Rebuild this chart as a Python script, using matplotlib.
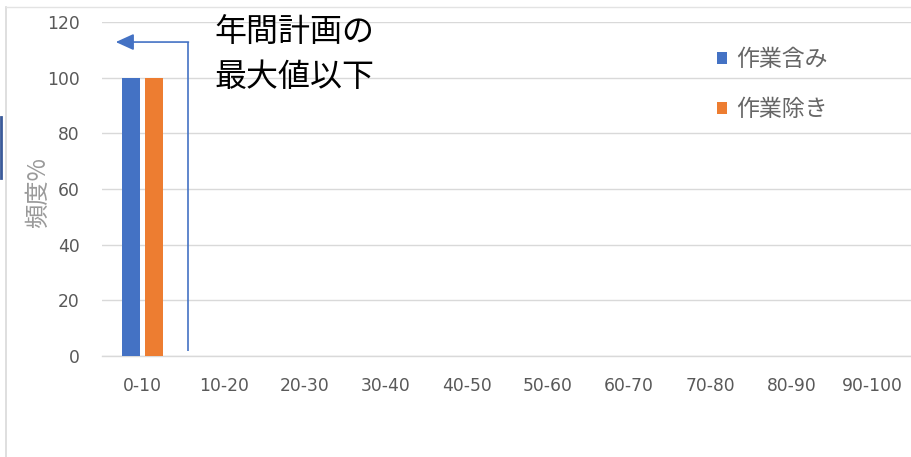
import numpy as np
import matplotlib
matplotlib.use('Agg')
import matplotlib.pyplot as plt
from matplotlib.lines import Line2D

plt.rcParams['font.family'] = ['Noto Sans CJK JP', 'DejaVu Sans']

categories = ['0-10', '10-20', '20-30', '30-40', '40-50',
              '50-60', '60-70', '70-80', '80-90', '90-100']
with_work = [100, 0, 0, 0, 0, 0, 0, 0, 0, 0]
without_work = [100, 0, 0, 0, 0, 0, 0, 0, 0, 0]
series_names = ['作業含み', '作業除き']
y_ticks = [0, 20, 40, 60, 80, 100, 120]
annotation = '年間計画の\n最大値以下'

W, H = 912, 457
fig = plt.figure(figsize=(W / 100, H / 100), dpi=100)
fig.patch.set_facecolor('white')

# plot area in pixels: left 102, right ~913, top 22, bottom 356
ax = fig.add_axes([102 / W, (H - 356) / H, 811 / W, 334 / H])

x = np.arange(len(categories))
bw = 0.215
ax.bar(x - 0.143, with_work, bw, color='#4472C4', label=series_names[0], zorder=3)
ax.bar(x + 0.141, without_work, bw, color='#ED7D31', label=series_names[1], zorder=3)

ax.set_xlim(-0.5, len(categories) - 0.5)
ax.set_ylim(0, 120)
ax.set_yticks(y_ticks)
ax.set_xticks(x)
ax.set_xticklabels(categories)
ax.tick_params(axis='both', length=0, labelsize=12.3, labelcolor='#595959',
               labelfontfamily='DejaVu Sans')
ax.tick_params(axis='y', pad=16)
ax.tick_params(axis='x', pad=15)
ax.grid(axis='y', color='#D9D9D9', linewidth=1, zorder=0)
for s in ['top', 'right', 'left']:
    ax.spines[s].set_visible(False)
ax.spines['bottom'].set_color('#D9D9D9')
ax.spines['bottom'].set_linewidth(1)

fig.text(38 / W, 1 - 192 / H, '頻度%', rotation=90, ha='center', va='center',
         fontsize=17.5, color='#9A9A9A')

# arrow annotation
ax.plot([0.566, 0.566], [1.8, 112.8], color='#4472C4', lw=1.2, zorder=4,
        solid_capstyle='butt')
ax.annotate('', xy=(-0.33, 112.8), xytext=(0.566, 112.8),
            arrowprops=dict(arrowstyle='-|>,head_length=1.1,head_width=0.5',
                            color='#4472C4', lw=1.2, shrinkA=0, shrinkB=0),
            zorder=4)
fig.text(214 / W, 1 - 55 / H, annotation, ha='left', va='center',
         fontsize=23, color='black', linespacing=1.45)

leg = ax.legend(loc='upper left', bbox_to_anchor=(717 / W, 1 - 48 / H),
                bbox_transform=fig.transFigure, frameon=False,
                fontsize=16.5, labelcolor='#666666', handlelength=0.45,
                handleheight=0.45, handletextpad=0.4, labelspacing=1.18,
                borderpad=0, borderaxespad=0)

# chart frame edges and cropped box at the left
fig.add_artist(Line2D([6.5 / W, 6.5 / W], [0, 1 - 7 / H], color='#D9D9D9', lw=1.2,
                      transform=fig.transFigure))
fig.add_artist(Line2D([6.5 / W, 1], [1 - 7 / H, 1 - 7 / H], color='#E3E3E3', lw=1,
                      transform=fig.transFigure))
fig.add_artist(Line2D([1 / W, 1 / W], [1 - 117 / H, 1 - 178 / H], color='#3A5A99',
                      lw=2, transform=fig.transFigure))

fig.savefig('out.png', dpi=100, facecolor='white')
